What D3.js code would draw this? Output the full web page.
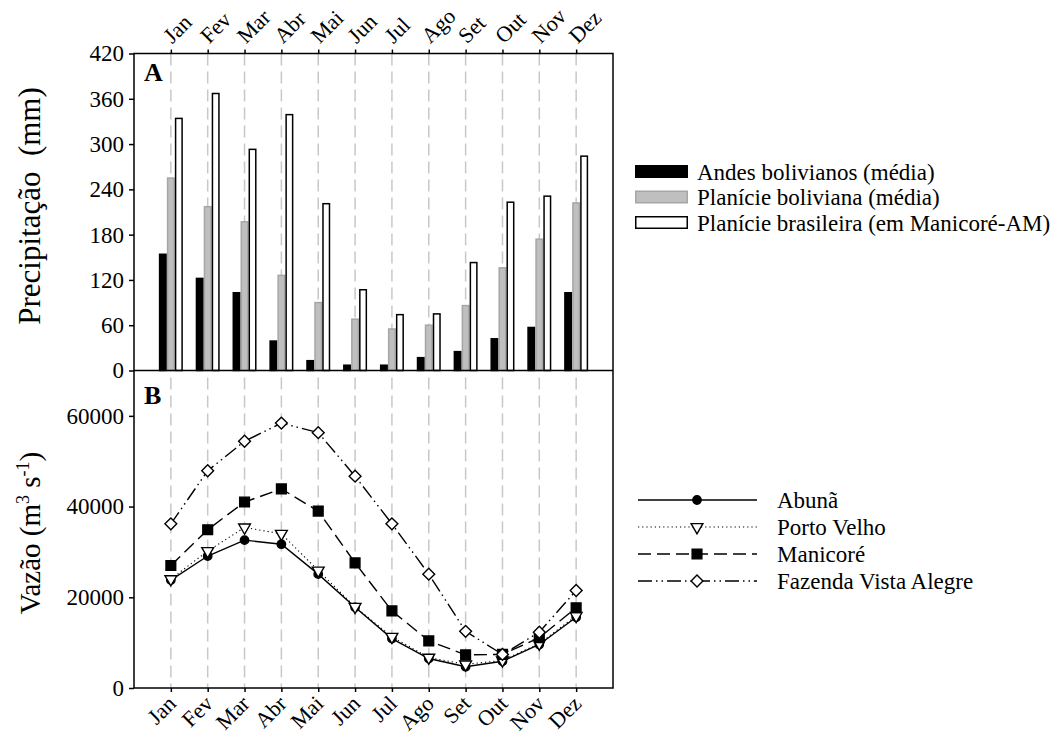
<!DOCTYPE html>
<html>
<head>
<meta charset="utf-8">
<script src="https://cdn.jsdelivr.net/npm/d3@7"></script>
<style>
  html, body { margin: 0; padding: 0; background: #fff; }
  svg { display: block; font-family: "Liberation Serif", "Times New Roman", serif; }
</style>
</head>
<body>
<svg id="chart" width="1056" height="735"></svg>
<script>
// Precipitação (A) and Vazão (B) by month

const MONTHS = ["Jan", "Fev", "Mar", "Abr", "Mai", "Jun", "Jul", "Ago", "Set", "Out", "Nov", "Dez"];

// panel A – precipitation (mm)
const RAIN_ANDES    = [154, 122, 103, 39, 13, 7, 7, 17, 25, 42, 57, 103];
const RAIN_BOLIVIA  = [255, 217, 197, 126, 90, 68, 55, 60, 86, 136, 174, 222];
const RAIN_BRAZIL   = [334, 367, 293, 339, 221, 107, 74, 75, 143, 223, 231, 284];
const RAIN_NAMES    = ["Andes bolivianos (média)", "Planície boliviana (média)", "Planície brasileira (em Manicoré-AM)"];
const RAIN_TICKS    = [0, 60, 120, 180, 240, 300, 360, 420];

// panel B – discharge (m3/s)
const FLOW_ABUNA       = [23800, 29100, 32600, 31700, 25100, 17800, 10900, 6500, 4700, 5900, 9600, 15600];
const FLOW_PORTO_VELHO = [24000, 30200, 35400, 34000, 25900, 17900, 11300, 6700, 5200, 6100, 9800, 15900];
const FLOW_MANICORE    = [27000, 34900, 41000, 43900, 39000, 27600, 17000, 10400, 7300, 7400, 11100, 17700];
const FLOW_FAZENDA     = [36200, 47900, 54400, 58400, 56300, 46700, 36200, 25100, 12500, 7400, 12300, 21500];
const FLOW_NAMES       = ["Abunã", "Porto Velho", "Manicoré", "Fazenda Vista Alegre"];
const FLOW_TICKS       = [0, 20000, 40000, 60000];

// layout
const PLOT = { left: 134, right: 613, top: 53.5, mid: 370.5, bottom: 688 };
const BAR_W = 8;
const SERIF = "'Liberation Serif', 'Times New Roman', serif";

const svg = d3.select("#chart");

const x = d3.scalePoint()
  .domain(MONTHS)
  .range([PLOT.left, PLOT.right])
  .padding(1);

const yA = d3.scaleLinear().domain([0, 420]).range([PLOT.mid, PLOT.top]);
const yB = d3.scaleLinear().domain([0, 70000]).range([PLOT.bottom, PLOT.mid]);

// ---------------------------
// Grid (dashed month lines through both panels)
// ---------------------------

svg.append("g")
  .selectAll("line")
  .data(MONTHS)
  .join("line")
  .attr("x1", d => x(d))
  .attr("x2", d => x(d))
  .attr("y1", PLOT.top)
  .attr("y2", PLOT.bottom)
  .attr("stroke", "#c8c8c8")
  .attr("stroke-width", 1.5)
  .attr("stroke-dasharray", "12,6");

// ---------------------------
// Panel A – bars
// ---------------------------

const rainSeries = [
  { values: RAIN_ANDES,   fill: "#000000", stroke: "#000000", offset: -1.5 },
  { values: RAIN_BOLIVIA, fill: "#bfbfbf", stroke: "#a6a6a6", offset: -0.5 },
  { values: RAIN_BRAZIL,  fill: "#ffffff", stroke: "#000000", offset: 0.5 }
];

rainSeries.forEach(s => {
  svg.append("g")
    .selectAll("rect")
    .data(MONTHS.map((m, i) => ({ month: m, value: s.values[i] })))
    .join("rect")
    .attr("x", d => x(d.month) + s.offset * BAR_W + 0.75)
    .attr("y", d => yA(d.value))
    .attr("width", BAR_W - 1.5)
    .attr("height", d => yA(0) - yA(d.value))
    .attr("fill", s.fill)
    .attr("stroke", s.stroke)
    .attr("stroke-width", 1.5);
});

// ---------------------------
// Panel B – lines
// ---------------------------

const flowSeries = [
  { values: FLOW_ABUNA,       dash: null,                 marker: "circle" },
  { values: FLOW_PORTO_VELHO, dash: "1.2,3",              marker: "triangle" },
  { values: FLOW_MANICORE,    dash: "13,6",               marker: "square" },
  { values: FLOW_FAZENDA,     dash: "14,4,1.5,4,1.5,4",   marker: "diamond" }
];

const markerSymbol = {
  circle:   { type: d3.symbolCircle,   size: 55, fill: "#000" },
  triangle: { type: d3.symbolTriangle, size: 60, fill: "#fff", rotate: 180 },
  square:   { type: d3.symbolSquare,   size: 95, fill: "#000" },
  diamond:  { type: d3.symbolSquare,   size: 70, fill: "#fff", rotate: 45 }
};

const line = d3.line()
  .x(d => x(d.month))
  .y(d => yB(d.value));

function drawMarker(g, kind, cx, cy) {
  const m = markerSymbol[kind];
  g.append("path")
    .attr("d", d3.symbol().type(m.type).size(m.size)())
    .attr("transform", `translate(${cx},${cy}) rotate(${m.rotate || 0})`)
    .attr("fill", m.fill)
    .attr("stroke", "#000")
    .attr("stroke-width", 1.4);
}

flowSeries.forEach(s => {
  const pts = MONTHS.map((m, i) => ({ month: m, value: s.values[i] }));
  const g = svg.append("g");
  g.append("path")
    .datum(pts)
    .attr("d", line)
    .attr("fill", "none")
    .attr("stroke", "#000")
    .attr("stroke-width", s.dash === "1.2,3" ? 1.1 : 1.4)
    .attr("stroke-dasharray", s.dash);
  pts.forEach(p => drawMarker(g, s.marker, x(p.month), yB(p.value)));
});

// ---------------------------
// Frame + axes
// ---------------------------

const frame = svg.append("g")
  .attr("fill", "none")
  .attr("stroke", "#000")
  .attr("stroke-width", 1.5);

frame.append("rect")
  .attr("x", PLOT.left)
  .attr("y", PLOT.top)
  .attr("width", PLOT.right - PLOT.left)
  .attr("height", PLOT.bottom - PLOT.top);

frame.append("line")
  .attr("x1", PLOT.left).attr("x2", PLOT.right)
  .attr("y1", PLOT.mid).attr("y2", PLOT.mid);

function styleAxis(g, size) {
  g.select(".domain").remove();
  g.selectAll("line").attr("stroke", "#000").attr("stroke-width", 1.5);
  g.selectAll("text")
    .attr("fill", "#000")
    .style("font-family", SERIF)
    .style("font-size", size + "px");
}

svg.append("g")
  .attr("transform", `translate(${PLOT.left},0)`)
  .call(d3.axisLeft(yA).tickValues(RAIN_TICKS).tickSize(5).tickPadding(5))
  .call(styleAxis, 23);

svg.append("g")
  .attr("transform", `translate(${PLOT.left},0)`)
  .call(d3.axisLeft(yB).tickValues(FLOW_TICKS).tickSize(5).tickPadding(5).tickFormat(d3.format("d")))
  .call(styleAxis, 23);

svg.append("g")
  .attr("transform", `translate(0,${PLOT.top})`)
  .call(d3.axisTop(x).tickSize(4))
  .call(styleAxis, 22)
  .selectAll("text")
  .attr("x", 0)
  .attr("y", 0)
  .attr("dy", 0)
  .attr("transform", "translate(1,-9) rotate(-45)")
  .style("text-anchor", "start");

svg.append("g")
  .attr("transform", `translate(0,${PLOT.bottom})`)
  .call(d3.axisBottom(x).tickSize(4))
  .call(styleAxis, 22)
  .selectAll("text")
  .attr("x", 0)
  .attr("y", 0)
  .attr("dy", 0)
  .attr("transform", "translate(6,17) rotate(-45)")
  .style("text-anchor", "end");

// axis titles
svg.append("text")
  .attr("transform", "translate(40,206) rotate(-90)")
  .attr("text-anchor", "middle")
  .style("font-size", "31px")
  .text("Precipitação\u00a0 (mm)");

const vz = svg.append("text")
  .attr("transform", "translate(40,533) rotate(-90)")
  .attr("text-anchor", "middle")
  .style("font-size", "29px");
vz.append("tspan").text("Vazão (m");
vz.append("tspan").attr("dy", -11).style("font-size", "18px").text("3");
vz.append("tspan").attr("dy", 11).text(" s");
vz.append("tspan").attr("dy", -11).style("font-size", "18px").text("-1");
vz.append("tspan").attr("dy", 11).text(")");

// panel letters
svg.append("text").attr("x", 144).attr("y", 81)
  .style("font-size", "26px").style("font-weight", "bold").text("A");
svg.append("text").attr("x", 144).attr("y", 404)
  .style("font-size", "26px").style("font-weight", "bold").text("B");

// ---------------------------
// Legends
// ---------------------------

const legA = svg.append("g").attr("transform", "translate(635,165)");
rainSeries.forEach((s, i) => {
  const row = legA.append("g").attr("transform", `translate(0,${i * 25.5})`);
  row.append("rect")
    .attr("x", 0.75).attr("y", 0.75)
    .attr("width", 51.5).attr("height", 11.5)
    .attr("fill", s.fill)
    .attr("stroke", s.stroke)
    .attr("stroke-width", 1.5);
  row.append("text")
    .attr("x", 62)
    .attr("y", 6.5)
    .attr("dy", "0.35em")
    .style("font-size", "23px")
    .text(RAIN_NAMES[i]);
});

const legB = svg.append("g").attr("transform", "translate(638,500)");
flowSeries.forEach((s, i) => {
  const yy = i * 27;
  const g = legB.append("g");
  g.append("line")
    .attr("x1", 0).attr("x2", 119)
    .attr("y1", yy).attr("y2", yy)
    .attr("stroke", "#000")
    .attr("stroke-width", s.dash === "1.2,3" ? 1.1 : 1.4)
    .attr("stroke-dasharray", s.dash);
  drawMarker(g, s.marker, 59, yy);
  g.append("text")
    .attr("x", 139)
    .attr("y", yy)
    .attr("dy", "0.35em")
    .style("font-size", "23px")
    .text(FLOW_NAMES[i]);
});
</script>
</body>
</html>
